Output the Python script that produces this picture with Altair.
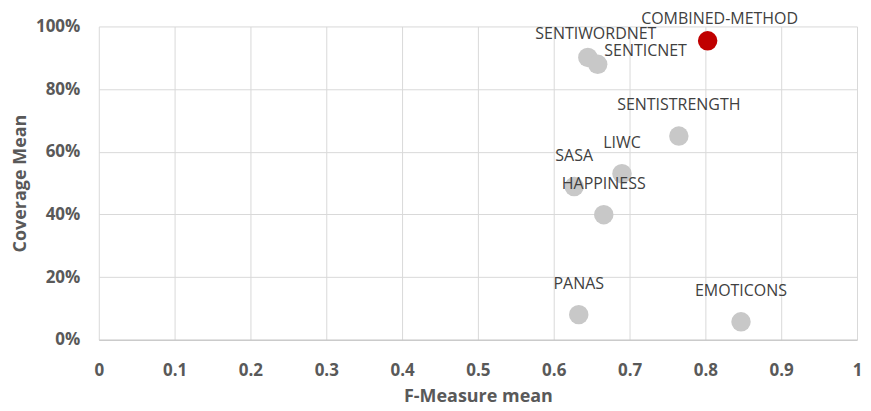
import altair as alt
import pandas as pd

methods = ["COMBINED-METHOD", "SENTIWORDNET", "SENTICNET", "SENTISTRENGTH", "LIWC",
           "SASA", "HAPPINESS", "PANAS", "EMOTICONS"]
f_measure = [0.803, 0.645, 0.658, 0.765, 0.690, 0.627, 0.666, 0.633, 0.847]
coverage = [0.954, 0.901, 0.879, 0.650, 0.530, 0.489, 0.399, 0.080, 0.057]
kind = ["combined", "single", "single", "single", "single", "single", "single", "single", "single"]

df = pd.DataFrame({"method": methods, "f": f_measure, "cov": coverage, "kind": kind})

FONT = "Open Sans"

base = alt.Chart(df)

x = alt.X("f:Q", title="F-Measure mean",
          scale=alt.Scale(domain=[0, 1], nice=False),
          axis=alt.Axis(values=[0, 0.1, 0.2, 0.3, 0.4, 0.5, 0.6, 0.7, 0.8, 0.9, 1],
                        labelExpr="datum.value == 0 ? '0' : datum.value == 1 ? '1' : format(datum.value, '.1f')",
                        ticks=False, labelPadding=23, titlePadding=9, labelFlush=False,
                        domainColor="#bfbfbf", gridColor="#d9d9d9"))
y = alt.Y("cov:Q", title="Coverage Mean",
          scale=alt.Scale(domain=[0, 1], nice=False),
          axis=alt.Axis(values=[0, 0.2, 0.4, 0.6, 0.8, 1], format=".0%",
                        ticks=False, labelPadding=19, titlePadding=6, labelFlush=False,
                        domain=False, gridColor="#d9d9d9"))

points = base.mark_circle(size=380, opacity=1).encode(
    x=x, y=y,
    color=alt.Color("kind:N", scale=alt.Scale(domain=["combined", "single"],
                                              range=["#c00000", "#c8c8c8"]), legend=None),
)

label_style = dict(fontSize=16, font=FONT, color="#404040", align="center", baseline="middle")

labels_main = base.transform_filter(
    "datum.method != 'SENTIWORDNET' && datum.method != 'SENTICNET' && datum.method != 'COMBINED-METHOD'"
).mark_text(dy=-31, **label_style).encode(x="f:Q", y="cov:Q", text="method:N")

labels_comb = base.transform_filter("datum.method == 'COMBINED-METHOD'").mark_text(
    dx=12, dy=-22, **label_style).encode(x="f:Q", y="cov:Q", text="method:N")

labels_swn = base.transform_filter("datum.method == 'SENTIWORDNET'").mark_text(
    dx=8, dy=-23, **label_style).encode(x="f:Q", y="cov:Q", text="method:N")

labels_scn = base.transform_filter("datum.method == 'SENTICNET'").mark_text(
    dx=48, dy=-13, **label_style).encode(x="f:Q", y="cov:Q", text="method:N")

chart = alt.layer(points, labels_main, labels_comb, labels_swn, labels_scn).properties(
    width=760, height=314,
    autosize=alt.AutoSizeParams(type="none"),
    padding={"left": 91, "top": 18, "right": 6, "bottom": 70},
).configure_view(stroke=None).configure_axis(
    labelFont=FONT, labelFontSize=17, labelFontWeight="bold", labelColor="#595959",
    titleFont=FONT, titleFontSize=18, titleFontWeight="bold", titleColor="#595959",
)

chart.save("out.html", embed_options={"renderer": "svg", "actions": False})
